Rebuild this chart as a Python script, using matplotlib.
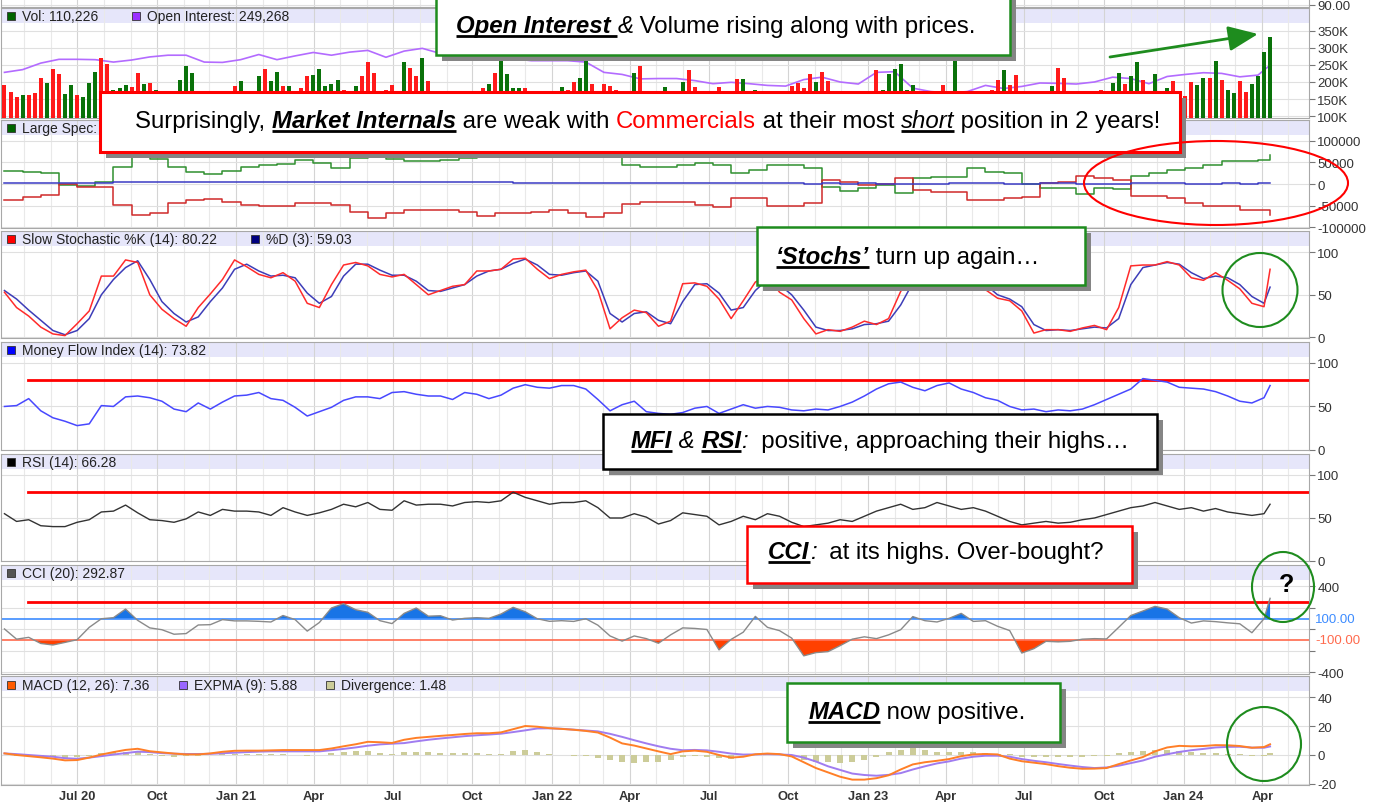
import numpy as np
import pandas as pd
import matplotlib
matplotlib.use("Agg")
import matplotlib.pyplot as plt
import matplotlib.dates as mdates
from matplotlib.patches import Rectangle, Ellipse
from matplotlib.ticker import FuncFormatter

FONT = "Liberation Sans"
plt.rcParams["font.family"] = [FONT, "DejaVu Sans"]

W, H = 1383, 803

# weekly bars Apr 2020 - Apr 2024
dates = pd.date_range("2020-04-08", periods=210, freq="7D")
dates_2w = dates[::2].append(dates[-1:])   # oscillators, read every 2 weeks
dates_3w = dates[::3].append(dates[-1:])   # open interest / COT, every 3 weeks

# volume in thousands, g = up week, r = down week
vol = [190, 170, 155, 161, 161, 167, 213, 196, 237, 222,
       165, 190, 161, 155, 196, 228, 271, 251, 176, 181,
       190, 184, 225, 193, 196, 178, 170, 170, 170, 207,
       246, 225, 150, 170, 150, 145, 140, 150, 187, 202,
       160, 170, 216, 239, 202, 228, 187, 187, 150, 181,
       216, 219, 239, 187, 193, 205, 178, 150, 187, 216,
       257, 225, 150, 178, 190, 170, 257, 240, 216, 269,
       202, 150, 140, 155, 145, 150, 172, 172, 150, 181,
       193, 225, 265, 222, 181, 181, 181, 150, 140, 150,
       145, 172, 184, 178, 199, 213, 265, 193, 150, 193,
       187, 178, 150, 172, 225, 248, 150, 140, 150, 184,
       150, 145, 199, 234, 184, 170, 150, 145, 184, 150,
       145, 210, 210, 150, 178, 150, 140, 150, 145, 150,
       187, 196, 181, 222, 199, 228, 202, 150, 145, 150,
       140, 150, 160, 172, 234, 178, 222, 237, 251, 178,
       190, 150, 145, 150, 140, 190, 172, 270, 170, 150,
       145, 150, 172, 178, 207, 234, 190, 219, 172, 170,
       150, 170, 170, 187, 242, 213, 150, 145, 150, 172,
       172, 178, 150, 196, 225, 193, 216, 257, 205, 150,
       222, 170, 181, 202, 160, 158, 199, 190, 213, 213,
       260, 207, 178, 167, 202, 170, 193, 216, 286, 330]
vol_dir = ("rrrgrrrgrr" "ggrgggrrgg" "grrgrgrrrg" "gggrrgrgrg" "grgrggrgrr"
           "rgggggrggr" "rrrrrggrrg" "rgrgrggrgr" "grggggrrgr" "gggrrggrgr"
           "rrgggrrgrg" "rggrrrgrrg" "rrgrgrgrgr" "rrrrgrrgrg" "rgrrrggggg"
           "grgrgrgggr" "grrrrgrrrg" "grrgrrgrgg" "rrgggrggrg" "grgrrrrggr"
           "grggrrgggg")

open_int = [228, 236, 255, 266, 266, 265, 258, 264, 273, 278,
            278, 258, 257, 265, 280, 265, 276, 286, 278, 287,
            292, 272, 290, 298, 283, 278, 275, 272, 268, 262,
            262, 262, 258, 228, 222, 209, 210, 210, 204, 195,
            199, 195, 190, 188, 207, 214, 200, 194, 228, 230,
            182, 172, 168, 172, 190, 181, 187, 197, 196, 194,
            200, 214, 210, 195, 216, 222, 227, 225, 215, 220,
            249]

# COT net positions
large_spec = [31000, 27000, 25000, -3000, -4600, 5000, 40000, 62000, 58000, 40000,
              27000, 23000, 31000, 40000, 44000, 46000, 56000, 48000, 38000, 60000,
              63000, 58000, 52000, 52000, 56000, 60000, 70000, 72000, 74000, 72000,
              70000, 70000, 72000, 70000, 44000, 40000, 40000, 45000, 48000, 45000,
              26000, 32600, 44000, 44000, 36500, -6000, -15500, -10000, -2300, -20000,
              13000, 17000, 17000, 36500, 28600, 25000, 1000, -10000, -10000, -23000,
              -10000, -12000, 18000, 25000, 32000, 38000, 44000, 52000, 52000, 56000,
              67000]
commercials = [-37000, -31000, -25600, 0, -6200, -8000, -49000, -72000, -67000, -45000,
               -37000, -35000, -41000, -49000, -51000, -51000, -45000, -45000, -49000, -64000,
               -77500, -68000, -60500, -60500, -60500, -64000, -73700, -68000, -68000, -64000,
               -60500, -68000, -76000, -68000, -47000, -41000, -41000, -41000, -49000, -54000,
               -33000, -33000, -51000, -51000, -45000, 9000, 5400, -2300, 0, 15000,
               -14000, -18000, -18000, -37000, -37000, -33000, -29500, 1500, 5000, 18600,
               13000, 10000, -28000, -28000, -33000, -43500, -51000, -51000, -60500, -60000,
               -72000]
small_spec = [2000, 2000, 2000, 2500, 2500, 3000, 4000, 5000, 5000, 5000,
              5000, 5500, 5000, 5000, 5500, 5000, 5000, 4500, 5000, 5000,
              4000, 4000, 4000, 4000, 4000, 3500, 3500, 3500, 3000, 3000,
              3000, 3000, 2500, 2500, 3000, 3000, 3000, 2500, 2500, 2000,
              1500, 1500, 1500, 1500, 1000, 1500, 1000, 1500, 1000, 500,
              1000, 1000, 1500, 1500, 1500, 1000, 1000, 1500, 1500, 1000,
              1000, 1000, 1500, 1500, 1500, 1000, 1000, 1500, 1000, 1500,
              1500]

stoch_k = [53, 35, 25, 12, 4, 2, 16, 31, 72, 72,
           91, 88, 50, 33, 22, 13, 35, 51, 68, 91,
           83, 74, 70, 76, 66, 40, 35, 62, 85, 88,
           84, 74, 71, 74, 62, 50, 55, 60, 62, 78,
           78, 80, 92, 93, 80, 69, 74, 77, 79, 55,
           10, 23, 32, 29, 13, 19, 63, 64, 60, 45,
           22, 43, 65, 72, 53, 44, 22, 4, 9, 7,
           12, 19, 15, 22, 54, 75, 85, 88, 85, 80,
           70, 56, 46, 43, 31, 5, 9, 9, 7, 11,
           14, 9, 35, 84, 85, 85, 89, 85, 70, 67,
           76, 67, 57, 40, 36, 80]
stoch_d = [55, 45, 32, 20, 8, 3, 8, 22, 50, 68,
           82, 90, 68, 42, 28, 18, 24, 42, 58, 80,
           86, 78, 72, 73, 70, 52, 40, 48, 72, 86,
           86, 79, 73, 73, 66, 55, 54, 58, 62, 72,
           78, 80, 87, 92, 85, 74, 73, 76, 78, 66,
           28, 18, 28, 30, 20, 16, 42, 62, 63, 52,
           32, 35, 55, 68, 62, 50, 32, 12, 8, 8,
           10, 15, 16, 19, 38, 64, 80, 87, 86, 82,
           74, 62, 50, 45, 36, 15, 8, 9, 8, 10,
           12, 11, 22, 62, 82, 85, 88, 86, 76, 69,
           72, 70, 62, 48, 40, 59]

mfi = [50, 51, 59, 45, 37, 33, 28, 30, 51, 50,
       61, 62, 60, 56, 47, 44, 54, 47, 55, 62,
       63, 66, 59, 57, 49, 39, 44, 49, 57, 61,
       61, 59, 66, 67, 64, 62, 62, 58, 66, 64,
       59, 63, 71, 75, 72, 71, 74, 74, 70, 58,
       45, 52, 56, 44, 42, 41, 43, 48, 50, 42,
       47, 52, 48, 50, 49, 46, 45, 47, 46, 50,
       55, 62, 70, 76, 78, 72, 68, 74, 77, 70,
       66, 60, 57, 50, 46, 47, 44, 46, 45, 47,
       52, 58, 64, 70, 82, 80, 78, 72, 71, 70,
       67, 62, 56, 54, 60, 74]

rsi = [55, 46, 48, 41, 40, 40, 45, 48, 57, 58,
       65, 56, 48, 47, 45, 49, 57, 53, 60, 58,
       58, 57, 53, 62, 57, 53, 56, 60, 66, 63,
       68, 60, 59, 70, 65, 66, 66, 64, 68, 69,
       68, 70, 80, 74, 70, 66, 68, 68, 70, 62,
       50, 50, 55, 51, 43, 47, 56, 54, 52, 42,
       46, 52, 48, 55, 52, 45, 40, 42, 44, 48,
       46, 52, 58, 62, 66, 60, 62, 68, 64, 60,
       62, 58, 52, 46, 42, 44, 46, 44, 45, 48,
       50, 54, 58, 62, 64, 68, 64, 60, 62, 58,
       61, 57, 55, 53, 55, 66]

cci = [5, -90, -73, -130, -144, -120, -95, 20, 100, 110,
       190, 85, 15, -2, -44, -38, 42, 45, 92, 80,
       80, 76, 70, 130, 92, -15, 65, 200, 240, 184,
       160, 82, 55, 150, 200, 124, 128, 88, 104, 110,
       104, 144, 206, 165, 100, 76, 82, 75, 100, 40,
       -60, -108, -60, -85, -128, -50, 15, 10, 0, -190,
       -92, -25, 122, 20, -11, -80, -245, -215, -206, -150,
       -90, -68, -85, -50, -2, 120, 82, 70, 104, 150,
       75, 82, 30, -10, -219, -178, -110, -115, -110, -90,
       -85, -88, 20, 130, 172, 215, 190, 110, 60, 80,
       73, 62, 53, -30, 100, 290]

macd = [1.1, 0, -0.8, -1.6, -2.5, -3.7, -3.5, -1.8, 0.3, 2,
        3.5, 4.3, 2.6, 1.8, 1.0, 0.4, 0.4, 1.1, 2.2, 2.9,
        3, 3, 3.2, 3.4, 3.4, 3.4, 3.4, 4.5, 6, 7.4,
        9.1, 8.8, 8.3, 10.5, 11.8, 12.5, 13.2, 13.8, 14.5, 15,
        15, 15.6, 17.8, 20, 19.5, 18.5, 18, 17.4, 16.6, 15.5,
        12, 8, 6.5, 4.5, 2.5, 0.6, 2.5, 3, 2.2, 0,
        -1.8, -1.2, 0.5, 1, 0.6, -1, -5, -9, -12, -15,
        -17, -17, -16, -14, -10, -6.5, -5, -4, -2.8, -0.8,
        0.4, 0.7, 0.4, -2.5, -4.3, -5.3, -6.3, -7.7, -8.8, -9.5,
        -9.4, -9, -6.3, -3.8, -1.4, 2.5, 5.2, 6.3, 6, 6.2,
        6.8, 6.7, 6.2, 5, 5.5, 7.4]
expma = [1.1, 0.6, 0, -0.6, -1.2, -2.2, -2.6, -1.8, -0.8, 0.3,
         1.3, 2.3, 2, 1.3, 0.9, 0.7, 0.7, 0.8, 1.2, 1.6,
         2, 2.3, 2.5, 2.5, 2.5, 2.5, 2.5, 3.3, 4.2, 5.2,
         6.4, 7.3, 7.8, 8.2, 9.4, 10.5, 11.4, 12.2, 13, 13.6,
         14.1, 14.7, 15.8, 17, 18.3, 18.4, 18.1, 17.5, 16.9, 16.3,
         14.6, 12.5, 10.2, 8, 6, 4.3, 3.3, 3.5, 3.2, 2.2,
         1, 0.3, 0.4, 0.6, 0.4, 0, -1.8, -4.5, -7.8, -10.3,
         -12.8, -13.8, -14.3, -13.7, -12.5, -10, -7.8, -5.8, -4.4, -2.5,
         -1.2, -0.5, -0.5, -1.2, -2.8, -4, -5, -6.2, -7.3, -8.3,
         -9, -8.6, -7.4, -5.6, -3.8, -1.2, 0.5, 2.1, 3.3, 4.2,
         5.2, 5.6, 5.7, 5.1, 5, 5.9]
diverg = [0, -1, -1, -1.5, -1.5, -1.8, -1.5, -0.5, 1.5, 2,
          2.2, 2.5, 1, -1, -1.5, -1, -0.5, 0.3, 1, 1,
          0.8, 0.5, 0.4, 0.5, -0.3, -0.5, 0.3, 1.5, 2, 2.5,
          2.8, 1.2, 0.5, 2.4, 2.3, 2, 1.6, 1.3, 1.3, 1.2,
          1, 0.4, 2.5, 3.5, 2, 0.6, -0.2, -0.5, -1, -1.8,
          -3.5, -5, -5.5, -5, -4.5, -3.5, -1.5, -0.8, -1.2, -2.2,
          -2.5, 0.8, 0.3, 0.5, 0.2, -1.2, -3.5, -4.5, -5, -5.5,
          -4.5, -3.5, -1.5, 2, 3.5, 4.5, 3.2, 2.2, 2, 2,
          1.8, 1.5, 1, 0.5, -1.2, -1.5, -1.5, -1.5, -1.5, -1.2,
          -0.8, -0.4, 1.3, 2.2, 2.8, 3.5, 3.5, 3, 2.2, 1.5,
          1.2, 1, 0.5, -0.5, -0.5, 1.5]

x_start = mdates.date2num(pd.Timestamp("2020-04-04"))
x_end = mdates.date2num(pd.Timestamp("2024-05-25"))

fig = plt.figure(figsize=(W / 100, H / 100), dpi=100)
fig.patch.set_facecolor("white")


def panel(top, bottom, ylim, ticks, labels, band=15):
    ax = fig.add_axes([1 / W, 1 - bottom / H, 1308 / W, (bottom - top) / H])
    ax.set_xlim(x_start, x_end)
    ax.set_ylim(*ylim)
    ax.set_axisbelow(True)
    if band:
        f = band / (bottom - top)
        ax.add_patch(Rectangle((0, 1 - f), 1, f, transform=ax.transAxes,
                               facecolor="#e6e6fa", edgecolor="none", zorder=0))
    ax.xaxis.set_major_locator(mdates.MonthLocator(bymonth=(1, 4, 7, 10)))
    ax.xaxis.set_minor_locator(mdates.MonthLocator())
    ax.grid(True, which="major", axis="x", color="#d4d4d4", lw=0.8)
    ax.grid(True, which="minor", axis="x", color="#e9e9e9", lw=0.8)
    ax.grid(True, which="major", axis="y", color="#e0e0e0", lw=0.8)
    ax.yaxis.tick_right()
    ax.set_yticks(ticks)
    ax.set_yticklabels(labels)
    ax.tick_params(axis="y", length=4, pad=2, labelsize=9.5, color="#777777",
                   labelcolor="#333333")
    ax.tick_params(axis="x", which="both", length=0, labelbottom=False)
    for s in ax.spines.values():
        s.set_color("#a8a8a8")
    return ax


# price panel (only its bottom edge is in view)
ax0 = panel(-20, 8, (89.8, 92.6), [90], ["90.00"], band=0)

# volume + open interest
ax1 = panel(9, 119, (95, 415.6), [100, 150, 200, 250, 300, 350],
            ["100K", "150K", "200K", "250K", "300K", "350K"])
ax1.plot(dates_3w, open_int, color="#b36bff", lw=1.2, zorder=2)
ax1.bar(dates, vol, width=4.6,
        color=["#0a720a" if c == "g" else "#ff1a1a" for c in vol_dir], zorder=3)

# COT
ax2 = panel(121, 229, (-101600, 147800), [-100000, -50000, 0, 50000, 100000],
            ["-100000", "-50000", "0", "50000", "100000"])
ax2.step(dates_3w, large_spec, where="post", color="#2f8f2f", lw=1.1)
ax2.step(dates_3w, commercials, where="post", color="#cf2a2a", lw=1.1)
ax2.step(dates_3w, small_spec, where="post", color="#3b3bc4", lw=1.1)

# slow stochastic
ax3 = panel(232, 339, (-0.8, 125), [0, 50, 100], ["0", "50", "100"])
ax3.plot(dates_2w, stoch_d, color="#3d3db8", lw=1.1)
ax3.plot(dates_2w, stoch_k, color="#ff2b2b", lw=1.1)

# MFI
ax4 = panel(343, 451, (0, 124), [0, 50, 100], ["0", "50", "100"])
ax4.axhline(80, xmin=27 / 1308, color="#ff0000", lw=2)
ax4.plot(dates_2w, mfi, color="#4848ff", lw=1.1)

# RSI
ax5 = panel(455, 562, (0, 124.4), [0, 50, 100], ["0", "50", "100"])
ax5.axhline(80, xmin=27 / 1308, color="#ff0000", lw=2)
ax5.plot(dates_2w, rsi, color="#333333", lw=1.0)

# CCI
ax6 = panel(566, 675, (-414, 600), [-400, -200, 0, 200, 400],
            ["-400", "", "", "", "400"])
xc = mdates.date2num(dates_2w)
cc = np.array(cci, dtype=float)
ax6.fill_between(xc, cc, 100, where=cc > 100, interpolate=True,
                 color="#1874e6", lw=0)
ax6.fill_between(xc, cc, -100, where=cc < -100, interpolate=True,
                 color="#ff4000", lw=0)
ax6.axhline(100, color="#3d8cff", lw=1.2)
ax6.axhline(-100, color="#ff6a4d", lw=1.2)
ax6.axhline(255, xmin=27 / 1308, color="#ff0000", lw=2)
ax6.plot(xc, cc, color="#8a8a8a", lw=1)
ytr = ax6.get_yaxis_transform()
ax6.text(1 + 6 / 1308, 100, "100.00", transform=ytr, va="center", fontsize=9.5,
         color="#3d8cff")
ax6.text(1 + 6 / 1308, -100, "-100.00", transform=ytr, va="center", fontsize=9.5,
         color="#ff6a4d")

# MACD
ax7 = panel(677, 786, (-20.7, 54.5), [-20, 0, 20, 40], ["-20", "0", "20", "40"])
ax7.bar(dates_2w, diverg, width=7, color="#cccc99", zorder=2)
ax7.plot(dates_2w, expma, color="#a07cf0", lw=1.4, zorder=3)
ax7.plot(dates_2w, macd, color="#ff7f27", lw=1.4, zorder=4)


def xfmt(v, pos):
    d = mdates.num2date(v)
    return d.strftime("%b %y") if (d.month == 1 or pos == 0) else d.strftime("%b")


ax7.xaxis.set_major_formatter(FuncFormatter(xfmt))
ax7.tick_params(axis="x", which="major", labelbottom=True, pad=3.5, labelsize=9.3,
                labelcolor="#333333")
for t in ax7.get_xticklabels():
    t.set_fontweight("bold")

# overlay in pixel coordinates for headers and call-outs
ov = fig.add_axes([0, 0, 1, 1], zorder=20)
ov.set_xlim(0, W)
ov.set_ylim(H, 0)
ov.axis("off")

headers = [
    (17, [(11, "#006400", "Vol: 110,226"), (136, "#9b30ff", "Open Interest: 249,268")]),
    (129, [(11, "#006400", "Large Spec:")]),
    (240, [(11, "#ff0000", "Slow Stochastic %K (14): 80.22"), (255, "#000080", "%D (3): 59.03")]),
    (351, [(11, "#0000ff", "Money Flow Index (14): 73.82")]),
    (463, [(11, "#000000", "RSI (14): 66.28")]),
    (574, [(11, "#555555", "CCI (20): 292.87")]),
    (686, [(11, "#ff5a00", "MACD (12, 26): 7.36"), (183, "#9966ff", "EXPMA (9): 5.88"),
           (330, "#cccc99", "Divergence: 1.48")]),
]
for yc, items in headers:
    for xs, col, lab in items:
        ov.add_patch(Rectangle((xs - 4, yc - 4), 8, 8, facecolor=col,
                               edgecolor="#333333", lw=0.6))
        ov.text(xs + 11, yc, lab, fontsize=10, va="center", ha="left",
                color="#222222")


def box(x0, y0, x1, y1, edge, lw=1.8):
    ov.add_patch(Rectangle((x0 + 6, y0 + 6), x1 - x0, y1 - y0,
                           facecolor="#858585", edgecolor="none"))
    ov.add_patch(Rectangle((x0, y0), x1 - x0, y1 - y0, facecolor="white",
                           edgecolor=edge, lw=lw))


STYLES = {
    "n": {},
    "b": {"fontweight": "bold", "fontstyle": "italic"},
    "i": {"fontstyle": "italic"},
    "r": {"color": "#ff0000"},
    "u": {"fontstyle": "italic"},
}
UNDER = {"b", "u"}
renderer = fig.canvas.get_renderer()


def rich(cx, base, parts, size=17.3):
    widths = []
    for s, k in parts:
        t = ov.text(0, 0, "I" + s + "I", fontsize=size, **STYLES[k])
        a = t.get_window_extent(renderer).width
        t.set_text("II")
        b = t.get_window_extent(renderer).width
        t.remove()
        widths.append(a - b)
    x = cx - sum(widths) / 2
    for (s, k), w in zip(parts, widths):
        st = {"color": "black", **STYLES[k]}
        ov.text(x, base, s, fontsize=size, ha="left", va="baseline", **st)
        if k in UNDER:
            ov.plot([x, x + w], [base + 4, base + 4], color="black", lw=2,
                    solid_capstyle="butt")
        x += w


green = "#1e8c1e"
box(436, -10, 1010, 56, green)
rich(716, 33, [("Open Interest ", "b"), ("&", "i"),
               (" Volume rising along with prices.", "n")])

box(100, 93, 1180, 153, "#ff0000", lw=2.2)
rich(648, 128, [("Surprisingly, ", "n"), ("Market Internals", "b"),
                (" are weak with ", "n"), ("Commercials", "r"),
                (" at their most ", "n"), ("short", "u"),
                (" position in 2 years!", "n")])

box(757, 228, 1085, 286, green)
rich(908, 264, [("\u2018Stochs\u2019", "b"), (" turn up again\u2026", "n")])

box(603, 415, 1157, 470, "#000000")
rich(880, 448, [("MFI", "b"), (" & ", "i"), ("RSI", "b"), (":", "i"),
                ("  positive, approaching their highs\u2026", "n")])

box(747, 527, 1132, 584, "#ff0000")
rich(936, 559, [("CCI", "b"), (":", "i"), ("  at its highs. Over-bought?", "n")])

box(787, 684, 1060, 743, green)
rich(917, 719, [("MACD", "b"), (" now positive.", "n")])

ov.annotate("", xy=(1258, 35), xytext=(1110, 58),
            arrowprops=dict(arrowstyle="-|>,head_length=1.3,head_width=0.55",
                            color=green, lw=2, mutation_scale=14,
                            shrinkA=0, shrinkB=0))

ov.add_patch(Ellipse((1216, 184), 264, 84, fill=False, edgecolor="#ff0000", lw=1.5))
ov.add_patch(Ellipse((1260, 291), 75, 74, fill=False, edgecolor=green, lw=1.5))
ov.add_patch(Ellipse((1283, 588), 62, 70, fill=False, edgecolor=green, lw=1.5))
ov.add_patch(Ellipse((1264, 745), 74, 74, fill=False, edgecolor=green, lw=1.5))
ov.text(1287, 585, "?", fontsize=18, fontweight="bold", ha="center", va="center")

fig.savefig("out.png", dpi=100)
